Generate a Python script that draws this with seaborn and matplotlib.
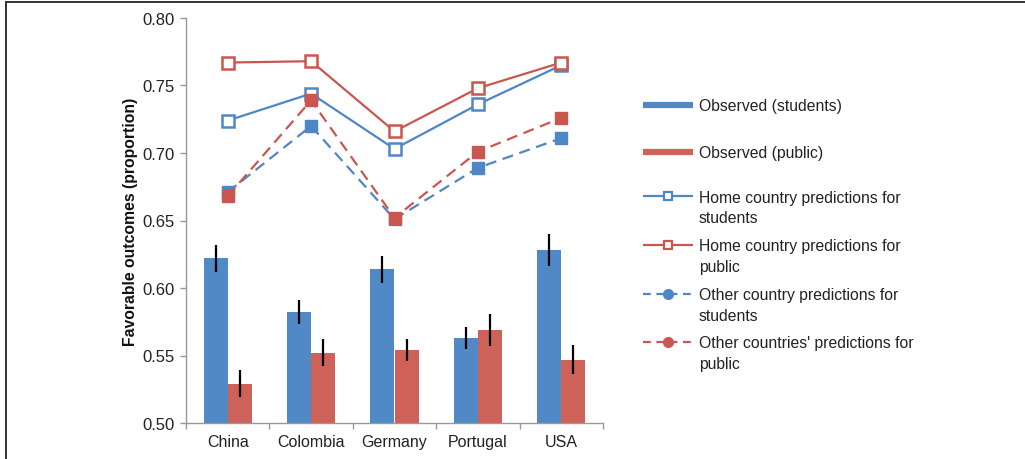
import numpy as np
import pandas as pd
import matplotlib
matplotlib.use("Agg")
import matplotlib.pyplot as plt
from matplotlib.lines import Line2D
from matplotlib.ticker import FixedLocator, FormatStrFormatter
import seaborn as sns

countries = ["China", "Colombia", "Germany", "Portugal", "USA"]
obs_students = [0.622, 0.582, 0.614, 0.563, 0.628]
obs_public = [0.529, 0.552, 0.554, 0.569, 0.547]
err_students = [0.010, 0.009, 0.010, 0.008, 0.012]
err_public = [0.010, 0.010, 0.008, 0.012, 0.011]
home_students = [0.724, 0.744, 0.703, 0.736, 0.765]
home_public = [0.767, 0.768, 0.716, 0.748, 0.767]
other_students = [0.671, 0.720, 0.651, 0.689, 0.711]
other_public = [0.668, 0.739, 0.652, 0.701, 0.726]

legend_labels = [
    "Observed (students)",
    "Observed (public)",
    "Home country predictions for\nstudents",
    "Home country predictions for\npublic",
    "Other country predictions for\nstudents",
    "Other countries' predictions for\npublic",
]

BLUE = "#4F86C6"
RED = "#C9574F"
BAR_BLUE = "#5089C6"
BAR_RED = "#CE6158"

sns.set_theme(style="white")
plt.rcParams["font.family"] = ["Liberation Sans", "DejaVu Sans"]

W, H = 1025, 460
fig = plt.figure(figsize=(W / 100, H / 100), dpi=100)
ax = fig.add_axes([186 / W, 1 - 424 / H, (603 - 186) / W, (424 - 19) / H])

df = pd.DataFrame({
    "country": countries * 2,
    "value": obs_students + obs_public,
    "group": ["students"] * len(countries) + ["public"] * len(countries),
})
sns.barplot(data=df, x="country", y="value", hue="group",
            palette=[BAR_BLUE, BAR_RED], width=0.58, errorbar=None,
            saturation=1, linewidth=0, legend=False, ax=ax)

for cont, errs in zip(ax.containers, [err_students, err_public]):
    xs = [p.get_x() + p.get_width() / 2 for p in cont]
    ys = [p.get_height() for p in cont]
    ax.errorbar(xs, ys, yerr=errs, fmt="none", ecolor="black",
                elinewidth=1.6, capsize=0, zorder=5)

xpos = np.arange(len(countries))
ax.plot(xpos, home_students, color=BLUE, lw=1.6, marker="s", ms=9,
        mfc="white", mec=BLUE, mew=1.8, zorder=6)
ax.plot(xpos, home_public, color=RED, lw=1.6, marker="s", ms=9,
        mfc="white", mec=RED, mew=1.8, zorder=7)
ax.plot(xpos, other_students, color=BLUE, lw=1.6, ls=(0, (5, 3)), marker="s",
        ms=8, mfc=BLUE, mec=BLUE, zorder=6)
ax.plot(xpos, other_public, color=RED, lw=1.6, ls=(0, (5, 3)), marker="s",
        ms=8, mfc=RED, mec=RED, zorder=7)

ax.set_ylim(0.50, 0.80)
ax.set_xlim(-0.5, len(countries) - 0.5)
ax.yaxis.set_major_locator(FixedLocator(np.arange(0.50, 0.8001, 0.05)))
ax.yaxis.set_major_formatter(FormatStrFormatter("%.2f"))
ax.xaxis.set_minor_locator(FixedLocator(np.arange(-0.5, len(countries), 1.0)))
ax.tick_params(axis="x", which="major", length=0, labelsize=11.5, pad=8,
               colors="#222222")
ax.tick_params(axis="x", which="minor", length=4, width=1, color="#999999",
               direction="out", bottom=True)
ax.tick_params(axis="y", which="major", length=4, width=1, color="#999999",
               direction="out", left=True, labelsize=12, pad=4,
               labelcolor="#222222")
ax.set_xlabel("")
ax.set_ylabel("Favorable outcomes (proportion)", fontsize=11.3,
              fontweight="bold", color="#111111", labelpad=3)
for s in ["top", "right"]:
    ax.spines[s].set_visible(False)
for s in ["left", "bottom"]:
    ax.spines[s].set_color("#999999")
    ax.spines[s].set_linewidth(1)

# manual legend
def fx(px):
    return px / W

def fy(py):
    return 1 - py / H

hx0, hx1, tx = 643, 693, 699
rows = [106, 153, 197, 246, 295, 343]
styles = [
    dict(color=BAR_BLUE, lw=4.5),
    dict(color=BAR_RED, lw=4.5),
    dict(color=BLUE, lw=1.6),
    dict(color=RED, lw=1.6),
    dict(color=BLUE, lw=1.6, ls=(0, (3.5, 2.5))),
    dict(color=RED, lw=1.6, ls=(0, (3.5, 2.5))),
]
markers = [None, None,
           dict(marker="s", ms=6, mfc="white", mec=BLUE, mew=1.6),
           dict(marker="s", ms=6, mfc="white", mec=RED, mew=1.6),
           dict(marker="o", ms=7, mfc=BLUE, mec=BLUE),
           dict(marker="o", ms=7, mfc=RED, mec=RED)]
for y, st, mk, lab in zip(rows, styles, markers, legend_labels):
    fig.add_artist(Line2D([fx(hx0), fx(hx1)], [fy(y), fy(y)],
                          transform=fig.transFigure, solid_capstyle="butt", **st))
    if mk is not None:
        fig.add_artist(Line2D([fx((hx0 + hx1) / 2)], [fy(y)],
                              transform=fig.transFigure, ls="none", **mk))
    lines = lab.split("\n")
    for k, ln in enumerate(lines):
        fig.text(fx(tx), fy(y + 5.5 + 20.5 * k), ln, fontsize=11.3,
                 color="#222222", va="baseline", ha="left")

# frame lines (top and left)
fig.add_artist(Line2D([fx(6), 1], [fy(3), fy(3)], transform=fig.transFigure,
                      color="#333333", lw=1.4))
fig.add_artist(Line2D([fx(6), fx(6)], [fy(3), 0], transform=fig.transFigure,
                      color="#333333", lw=1.4))

fig.savefig("out.png", dpi=100)
